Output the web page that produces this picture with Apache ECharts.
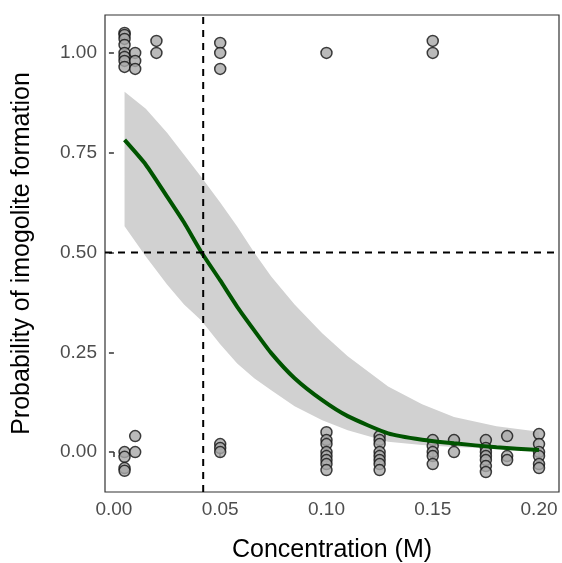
<!DOCTYPE html>
<html>
<head>
<meta charset="utf-8">
<script src="https://cdn.jsdelivr.net/npm/echarts@6/dist/echarts.min.js"></script>
<style>html,body{margin:0;padding:0;background:#fff}#chart{width:562px;height:563px}</style>
</head>
<body>
<div id="chart"></div>
<script>
// observed points: [concentration, jittered outcome]
const obsPoints = [
  [0.005, 1.05], [0.005, 1.045], [0.005, 1.035], [0.005, 1.02], [0.005, 1.0], [0.005, 0.99], [0.005, 0.98], [0.005, 0.965],
  [0.01, 1.0], [0.01, 0.98], [0.01, 0.96], [0.02, 1.03], [0.02, 1.0],
  [0.05, 1.025], [0.05, 1.0], [0.05, 0.96], [0.1, 1.0], [0.15, 1.03], [0.15, 1.0],
  [0.005, 0.0], [0.005, -0.012], [0.005, -0.04], [0.005, -0.047], [0.01, 0.04], [0.01, 0.0],
  [0.05, 0.02], [0.05, 0.01], [0.05, 0.0],
  [0.1, 0.05], [0.1, 0.03], [0.1, 0.02], [0.1, 0.0], [0.1, -0.01], [0.1, -0.02], [0.1, -0.03], [0.1, -0.045],
  [0.125, 0.04], [0.125, 0.03], [0.125, 0.02], [0.125, 0.0], [0.125, -0.01], [0.125, -0.02], [0.125, -0.03], [0.125, -0.045],
  [0.15, 0.03], [0.15, 0.015], [0.15, 0.0], [0.15, -0.01], [0.15, -0.03],
  [0.16, 0.03], [0.16, 0.0],
  [0.175, 0.03], [0.175, 0.01], [0.175, 0.0], [0.175, -0.01], [0.175, -0.02], [0.175, -0.035], [0.175, -0.05],
  [0.185, 0.04], [0.185, -0.01], [0.185, -0.02],
  [0.2, 0.045], [0.2, 0.02], [0.2, 0.0], [0.2, -0.01], [0.2, -0.03], [0.2, -0.04]
];
// fitted curve and confidence band
const fitX = [0.005, 0.015, 0.025, 0.033, 0.041, 0.05, 0.058, 0.066, 0.074, 0.085, 0.098, 0.11, 0.129, 0.145, 0.16, 0.18, 0.2];
const fitY = [0.782, 0.72, 0.64, 0.575, 0.502, 0.43, 0.364, 0.305, 0.248, 0.185, 0.13, 0.09, 0.047, 0.031, 0.022, 0.012, 0.005];
const bandUpper = [0.903, 0.86, 0.80, 0.745, 0.69, 0.625, 0.565, 0.50, 0.44, 0.37, 0.298, 0.24, 0.164, 0.12, 0.088, 0.065, 0.051];
const bandLower = [0.566, 0.49, 0.42, 0.37, 0.33, 0.27, 0.222, 0.185, 0.155, 0.115, 0.08, 0.055, 0.026, 0.018, 0.013, 0.009, 0.007];
const xTicks = [0, 0.05, 0.1, 0.15, 0.2];
const yTicks = [0, 0.25, 0.5, 0.75, 1];
const ec50 = 0.042;

const chart = echarts.init(document.getElementById('chart'));
const axisLabel = {color: '#4d4d4d', fontSize: 19, fontFamily: 'Liberation Sans', formatter: v => v.toFixed(2)};
const axisName = {color: '#000', fontSize: 25, fontFamily: 'Liberation Sans'};
const tick = {color: '#333', width: 1.5};
const dash = {color: '#000', type: [7, 6], width: 2};
chart.setOption({
  animation: false,
  grid: {left: 105, right: 3, top: 15, bottom: 71, outerBoundsMode: 'none', containLabel: false,
    show: true, borderColor: '#333', borderWidth: 1.2},
  xAxis: {
    type: 'value', min: -0.0042, max: 0.2094,
    name: 'Concentration (M)', nameLocation: 'middle', nameGap: 46, nameTextStyle: axisName,
    axisLine: {show: false}, splitLine: {show: false},
    axisLabel: Object.assign({margin: 8, customValues: xTicks}, axisLabel),
    axisTick: {show: true, length: 5, customValues: xTicks, lineStyle: tick}
  },
  yAxis: {
    type: 'value', min: -0.1, max: 1.095,
    name: 'Probability of imogolite formation', nameLocation: 'middle', nameGap: 70, nameTextStyle: axisName,
    axisLine: {show: false}, splitLine: {show: false},
    axisLabel: Object.assign({margin: 8, customValues: yTicks}, axisLabel),
    axisTick: {show: true, length: 5, customValues: yTicks, lineStyle: tick}
  },
  series: [
    {
      type: 'custom', z: 1, silent: true,
      data: [0],
      renderItem: (params, api) => {
        const pts = fitX.map((x, i) => api.coord([x, bandUpper[i]]))
          .concat(fitX.map((x, i) => api.coord([x, bandLower[i]])).reverse());
        return {type: 'polygon', shape: {points: pts}, style: {fill: '#d1d1d1'}};
      }
    },
    {
      type: 'scatter', z: 3, data: obsPoints, symbolSize: 11,
      itemStyle: {color: '#a9a9a9', borderColor: '#111', borderWidth: 1.5}
    },
    {
      type: 'line', z: 4, data: fitX.map((x, i) => [x, fitY[i]]), smooth: 0.2, showSymbol: false,
      lineStyle: {color: '#005400', width: 4}
    },
    {type: 'line', z: 5, data: [[ec50, -0.1], [ec50, 1.095]], showSymbol: false, lineStyle: dash},
    {type: 'line', z: 5, data: [[-0.0042, 0.5], [0.2094, 0.5]], showSymbol: false, lineStyle: dash}
  ]
});
</script>
</body>
</html>
